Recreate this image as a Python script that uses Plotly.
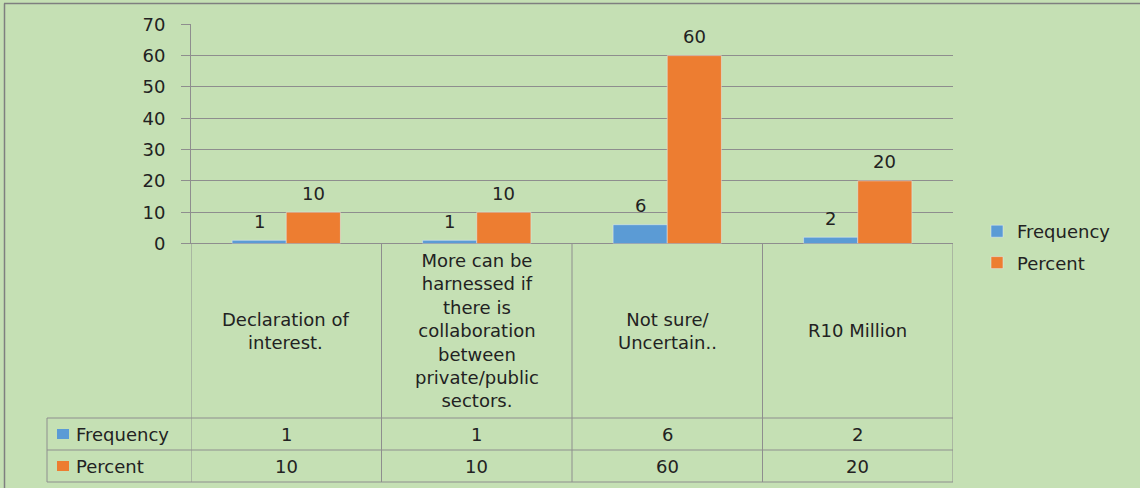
import plotly.graph_objects as go

# Survey responses with their frequency and percentage
categories = [
    "Declaration of interest.",
    "More can be harnessed if there is collaboration between private/public sectors.",
    "Not sure/ Uncertain..",
    "R10 Million",
]
category_labels = [
    "Declaration of<br>interest.",
    "More can be<br>harnessed if<br>there is<br>collaboration<br>between<br>private/public<br>sectors.",
    "Not sure/<br>Uncertain..",
    "R10 Million",
]
frequency = [1, 1, 6, 2]
percent = [10, 10, 60, 20]
series_names = ["Frequency", "Percent"]
y_ticks = [0, 10, 20, 30, 40, 50, 60, 70]

W, H = 1140, 488
BG = "#C5E0B4"
BLUE = "#5B9BD5"
ORANGE = "#ED7D31"
LINE = "#8E8E8E"
TEXT = "#222222"
FONT = "DejaVu Sans"
FS = 18


def px_x(v):
    return v / W


def px_y(v):
    return (H - v) / H


x_idx = list(range(len(categories)))
n = len(categories)

fig = go.Figure()
fig.add_trace(go.Bar(x=x_idx, y=frequency, name=series_names[0], marker_color=BLUE,
                     legendgroup="f", hoverinfo="skip"))
fig.add_trace(go.Bar(x=x_idx, y=percent, name=series_names[1], marker_color=ORANGE,
                     legendgroup="p", hoverinfo="skip"))

annotations = []
# value labels above the bars
for series, offset in ((frequency, -0.142), (percent, 0.142)):
    for i, v in enumerate(series):
        annotations.append(dict(x=i + offset, y=v, xref="x", yref="y", text=str(v),
                                showarrow=False, yanchor="middle", yshift=19,
                                font=dict(family=FONT, size=FS, color=TEXT)))

# data table: category header row
row_top, row_f, row_p, row_bot = 243.5, 418, 450, 482
for i, lab in enumerate(category_labels):
    annotations.append(dict(x=i, y=px_y((row_top + row_f) / 2), xref="x", yref="paper",
                            text=lab, showarrow=False, yanchor="middle",
                            font=dict(family=FONT, size=FS, color=TEXT)))
# data table: value rows
for series, yc in ((frequency, (row_f + row_p) / 2), (percent, (row_p + row_bot) / 2)):
    for i, v in enumerate(series):
        annotations.append(dict(x=i, y=px_y(yc), xref="x", yref="paper", text=str(v),
                                showarrow=False, yanchor="middle",
                                font=dict(family=FONT, size=FS, color=TEXT)))
# row headers with legend keys
table_left = 47
shapes = []
for name, color, yc in ((series_names[0], BLUE, (row_f + row_p) / 2),
                        (series_names[1], ORANGE, (row_p + row_bot) / 2)):
    annotations.append(dict(x=px_x(74), y=px_y(yc), xref="paper", yref="paper",
                            text=name, showarrow=False, xanchor="left", yanchor="middle",
                            font=dict(family=FONT, size=FS, color=TEXT)))
    shapes.append(dict(type="rect", xref="paper", yref="paper",
                       x0=px_x(57), x1=px_x(69), y0=px_y(yc - 5), y1=px_y(yc + 5),
                       fillcolor=color, line=dict(width=0)))

line_style = dict(color=LINE, width=1)
# vertical table rules at category boundaries
for b in [k - 0.5 for k in range(n + 1)]:
    shapes.append(dict(type="line", xref="x", yref="paper", x0=b, x1=b,
                       y0=px_y(row_top), y1=px_y(row_bot), line=line_style))
shapes.append(dict(type="line", xref="paper", yref="paper", x0=px_x(table_left), x1=px_x(table_left),
                   y0=px_y(row_f), y1=px_y(row_bot), line=line_style))
# horizontal table rules
for yy in (row_f, row_p, row_bot):
    shapes.append(dict(type="line", xref="paper", yref="paper", x0=px_x(table_left), x1=px_x(953),
                       y0=px_y(yy), y1=px_y(yy), line=line_style))
# chart frame (top and left edges)
shapes.append(dict(type="line", xref="paper", yref="paper", x0=px_x(4), x1=1,
                   y0=px_y(3.5), y1=px_y(3.5), line=dict(color="#7F7F7F", width=1.5)))
shapes.append(dict(type="line", xref="paper", yref="paper", x0=px_x(4.5), x1=px_x(4.5),
                   y0=px_y(3.5), y1=0, line=dict(color="#7F7F7F", width=1.5)))

fig.update_layout(
    width=W, height=H,
    margin=dict(l=0, r=0, t=0, b=0, autoexpand=False),
    paper_bgcolor=BG, plot_bgcolor=BG,
    barmode="group", bargap=0.4315, bargroupgap=0,
    font=dict(family=FONT, size=FS, color=TEXT),
    xaxis=dict(domain=[px_x(191), px_x(953)], range=[-0.5, n - 0.5], automargin=False,
               showticklabels=False, showgrid=False, zeroline=False, ticks="",
               fixedrange=True),
    yaxis=dict(domain=[px_y(243.5), px_y(24.3)], range=[0, 70], tickvals=y_ticks,
               automargin=False,
               showgrid=True, gridcolor=LINE, gridwidth=1,
               zeroline=True, zerolinecolor=LINE, zerolinewidth=1,
               showline=True, linecolor=LINE, linewidth=1,
               ticks="outside", ticklen=9, tickcolor=LINE, tickwidth=1,
               ticklabelstandoff=12,
               tickfont=dict(family=FONT, size=FS, color=TEXT)),
    legend=dict(x=px_x(977), y=px_y(213), xanchor="left", yanchor="top",
                traceorder="grouped", tracegroupgap=5, bgcolor="rgba(0,0,0,0)",
                font=dict(family=FONT, size=FS, color=TEXT)),
    showlegend=True,
    annotations=annotations,
    shapes=shapes,
)

fig.write_html("out.html")
